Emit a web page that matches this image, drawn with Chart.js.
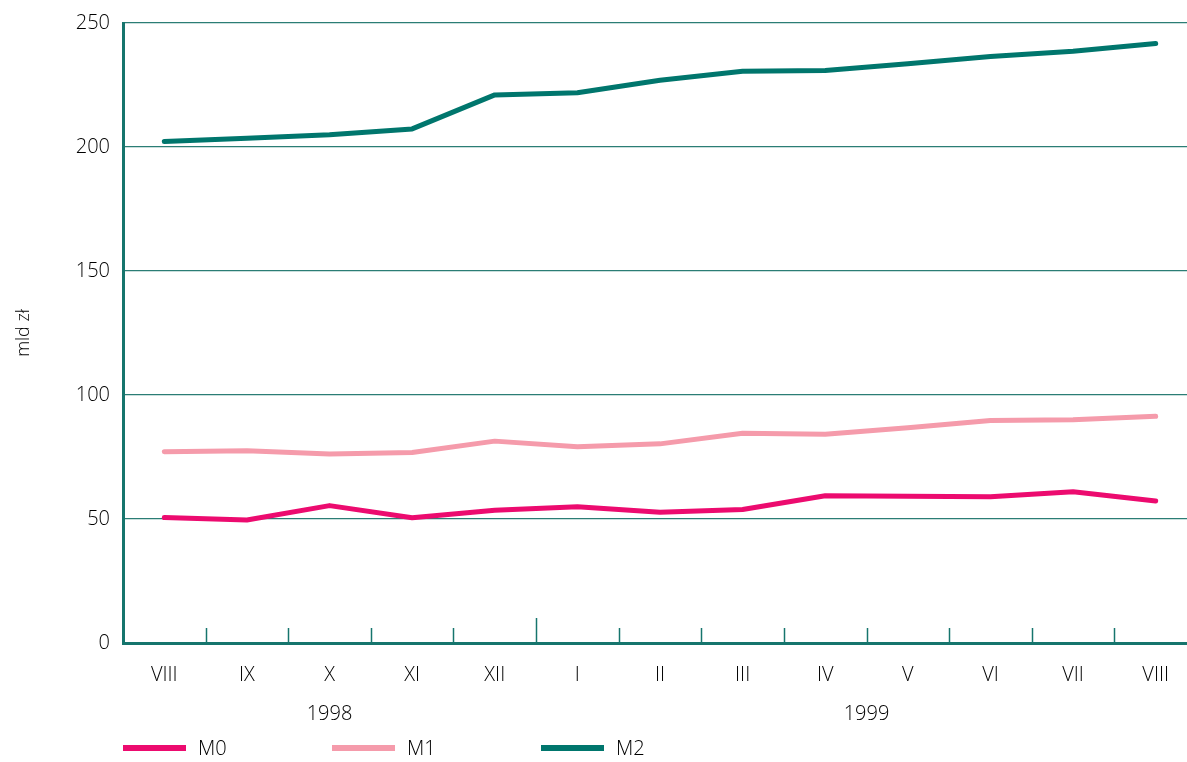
<!DOCTYPE html>
<html>
<head>
<meta charset="utf-8">
<script src="https://cdn.jsdelivr.net/npm/chart.js@4/dist/chart.umd.min.js"></script>
<style>
  html, body { margin: 0; padding: 0; overflow: hidden; background: #fff; }
  #wrap { width: 1197px; height: 762px; }
</style>
</head>
<body>
<div id="wrap"><canvas id="moneyChart" width="1197" height="762"></canvas></div>
<script>
// Months (Aug 1998 - Aug 1999)
var months = ['VIII', 'IX', 'X', 'XI', 'XII', 'I', 'II', 'III', 'IV', 'V', 'VI', 'VII', 'VIII'];

// Money aggregates, bln zl
var m0 = [50.6, 49.6, 55.4, 50.5, 53.5, 54.9, 52.7, 53.8, 59.4, 59.2, 59.0, 61.0, 57.3];
var m1 = [77.1, 77.5, 76.2, 76.8, 81.4, 79.1, 80.3, 84.6, 84.2, 86.8, 89.7, 90.0, 91.4];
var m2 = [202.2, 203.5, 204.9, 207.3, 221.0, 221.9, 226.9, 230.5, 230.8, 233.6, 236.5, 238.6, 241.7];

// Year groups under the month axis (first and last month index)
var years = ['1998', '1999'];
var yearStart = [0, 5];
var yearEnd = [4, 12];

var yTicks = [0, 50, 100, 150, 200, 250];

var teal = '#16756d';
var textColor = '#000000';
var fontFamily = '"Open Sans", "Noto Sans", sans-serif';

// small ticks between months, drawn upward from the axis, longer at the year change
var monthTicks = {
    id: 'monthTicks',
    afterDatasetsDraw: function(chart) {
        var ctx = chart.ctx;
        var x = chart.scales.x;
        var bottom = chart.chartArea.bottom;
        ctx.save();
        ctx.strokeStyle = teal;
        ctx.lineWidth = 1.5;
        for (var i = 1; i < months.length; i++) {
            var px = Math.round(x.getPixelForValue(i - 0.5)) + 0.5;
            var len = yearStart.indexOf(i) >= 0 ? 25 : 15;
            ctx.beginPath();
            ctx.moveTo(px, bottom);
            ctx.lineTo(px, bottom - len);
            ctx.stroke();
        }
        ctx.restore();
    }
};

// year labels + legend at the bottom
var bottomTexts = {
    id: 'bottomTexts',
    afterDraw: function(chart) {
        var ctx = chart.ctx;
        var x = chart.scales.x;
        ctx.save();
        ctx.fillStyle = textColor;
        ctx.font = '300 20px ' + fontFamily;
        ctx.textAlign = 'center';
        ctx.textBaseline = 'middle';
        for (var i = 0; i < years.length; i++) {
            var px = x.getPixelForValue((yearStart[i] + yearEnd[i]) / 2);
            ctx.fillText(years[i], px, 714);
        }
        // legend
        var left = chart.chartArea.left;
        var step = 209;
        ctx.textAlign = 'left';
        chart.data.datasets.forEach(function(ds, i) {
            var lx = left + i * step;
            ctx.strokeStyle = ds.borderColor;
            ctx.lineWidth = 6;
            ctx.lineCap = 'butt';
            ctx.beginPath();
            ctx.moveTo(lx, 748);
            ctx.lineTo(lx + 63, 748);
            ctx.stroke();
            ctx.fillText(ds.label, lx + 75, 749);
        });
        ctx.restore();
    }
};

var ctx = document.getElementById('moneyChart').getContext('2d');
var moneyChart = new Chart(ctx, {
    type: 'line',
    data: {
        labels: months,
        datasets: [{
            label: 'M0',
            data: m0,
            borderColor: '#ec0b6f',
            backgroundColor: '#ec0b6f'
        }, {
            label: 'M1',
            data: m1,
            borderColor: '#f59bab',
            backgroundColor: '#f59bab'
        }, {
            label: 'M2',
            data: m2,
            borderColor: '#00766d',
            backgroundColor: '#00766d'
        }]
    },
    options: {
        responsive: false,
        animation: false,
        events: [],
        layout: { padding: { left: 13, top: 23, right: 0, bottom: 0 } },
        elements: {
            line: { borderWidth: 5, tension: 0, borderCapStyle: 'round', borderJoinStyle: 'round', fill: false },
            point: { radius: 0 }
        },
        plugins: {
            legend: { display: false },
            tooltip: { enabled: false }
        },
        scales: {
            x: {
                type: 'category',
                offset: true,
                grid: { display: false, drawTicks: false },
                border: { display: true, color: teal, width: 3 },
                ticks: {
                    color: textColor,
                    font: { family: fontFamily, size: 20, weight: '300' },
                    padding: 20,
                    maxRotation: 0,
                    autoSkip: false
                },
                afterFit: function(scale) { scale.height = 119; }
            },
            y: {
                min: 0,
                max: 250,
                afterBuildTicks: function(scale) {
                    scale.ticks = yTicks.map(function(v) { return { value: v }; });
                },
                grid: { color: '#2b7d75', lineWidth: 1.2, drawTicks: false },
                border: { display: true, color: teal, width: 3 },
                ticks: {
                    color: textColor,
                    font: { family: fontFamily, size: 20, weight: '300', lineHeight: 1 },
                    padding: 13
                },
                title: {
                    display: true,
                    text: 'mld zł',
                    color: textColor,
                    font: { family: fontFamily, size: 18, weight: '300' },
                    padding: 0
                },
                afterFit: function(scale) { scale.width = 110; }
            }
        }
    },
    plugins: [monthTicks, bottomTexts]
});
</script>
</body>
</html>
